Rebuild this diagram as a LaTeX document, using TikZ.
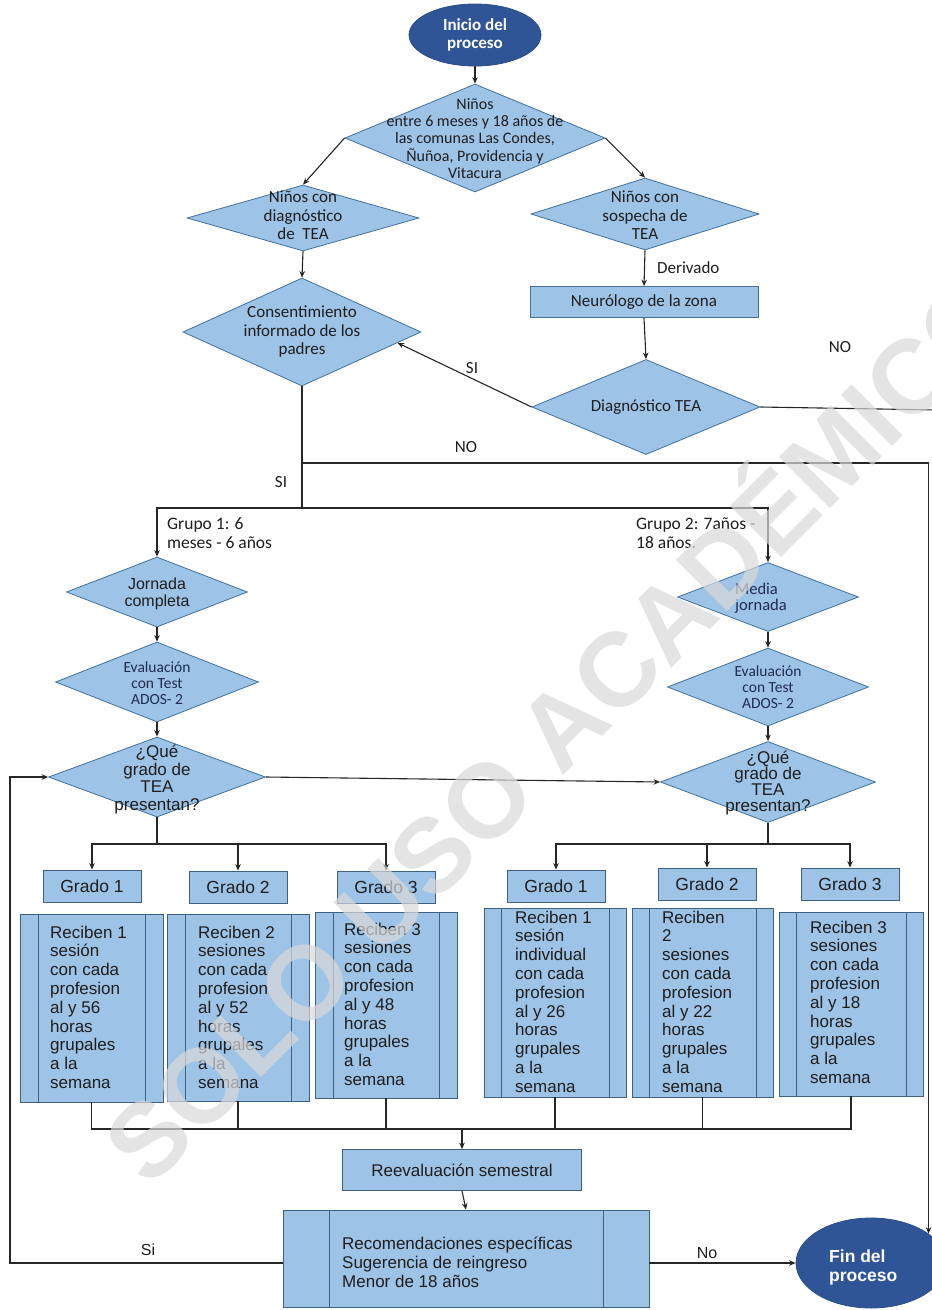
\documentclass[tikz,border=0pt]{standalone}
\usepackage{fontspec}
\setmainfont{Carlito}
\newfontfamily\arialf{Liberation Sans}
\usetikzlibrary{shapes.geometric,arrows.meta,calc}
\definecolor{fillc}{HTML}{9DC3E6}
\definecolor{bdr}{HTML}{41719C}
\definecolor{bdrl}{HTML}{40607F}
\definecolor{darkb}{HTML}{2F5597}
\definecolor{darkbd}{HTML}{2A4C88}
\definecolor{ink}{HTML}{1E1E1E}
\definecolor{navyink}{HTML}{1F2D50}
\definecolor{lineg}{HTML}{262626}
\definecolor{wmc}{HTML}{D9D9D9}
\newcommand\fz[2]{\fontsize{#1}{#2}\selectfont}
\tikzset{
  dia/.style n args={2}{diamond, draw=bdr, fill=fillc, line width=0.8pt, inner sep=0pt, minimum width=#1, minimum height=#2},
  rbox/.style n args={2}{rectangle, draw=bdr, fill=fillc, line width=0.8pt, inner sep=0pt, minimum width=#1, minimum height=#2},
  ellip/.style n args={2}{ellipse, draw=darkbd, fill=darkb, line width=0.8pt, inner sep=0pt, minimum width=#1, minimum height=#2},
  pbox/.style n args={3}{rectangle, draw=bdrl, fill=fillc, line width=0.8pt, inner sep=0pt, minimum width=#1, minimum height=#2,
     path picture={\draw[bdrl, line width=0.8pt] ([xshift=#3]path picture bounding box.north west) -- ([xshift=#3]path picture bounding box.south west) ([xshift=-#3]path picture bounding box.north east) -- ([xshift=-#3]path picture bounding box.south east);}},
  cal/.style={font=\fz{17}{18.5}, text=ink, align=center, inner sep=0pt},
  ari/.style={font=\arialf\fz{17}{19}, text=ink, align=center, inner sep=0pt},
  btxt/.style={font=\arialf\fz{17}{18.8}, text=ink, align=left, inner sep=0pt, anchor=north west},
  ln/.style={draw=lineg, line width=1.1pt},
  arr/.style={-{Stealth[length=6.5pt,width=5.5pt]}},
}
\begin{document}
\begin{tikzpicture}[x=1pt,y=-1pt]
\useasboundingbox (0,0) rectangle (932,1310);
\clip (0,0) rectangle (932,1310);
\fill[white] (0,0) rectangle (932,1310);

% ---------- upper part ----------
\node[ellip={132pt}{62pt}] (ini) at (475,35) {};
\node[font=\bfseries\fz{17}{18}, text=white, align=center, inner sep=0pt] (init) at (ini) {Inicio del\\proceso};

\node[dia={260pt}{108pt}] (d1) at (475,138) {};
\node[cal, font=\fz{16}{17.2}] (d1t) at (475,138.5) {Niños\\entre 6 meses y 18 años de\\las comunas Las Condes,\\Ñuñoa, Providencia y\\Vitacura};

\node[dia={232pt}{66pt}] (d2) at (303,218) {};
\node[cal] (d2t) at (303,215.5) {Niños con\\diagnóstico\\de~~TEA};

\node[dia={228pt}{72pt}] (d3) at (645,214) {};
\node[cal] (d3t) at (645,215.5) {Niños con\\sospecha de\\TEA};

\node[rbox={228pt}{31pt}, cal] (neu) at (644,302) {Neurólogo de la zona};
\node[cal, anchor=west] (derl) at (657,268) {Derivado};

\node[dia={228pt}{95pt}] (diag) at (646,407) {};
\node[cal] (diagt) at (646,407) {Diagnóstico TEA};

\node[dia={238pt}{108pt}] (cons) at (302,332) {};
\node[cal] (const) at (302,331.5) {Consentimiento\\informado de los\\padres};

\node[cal] (sil) at (472,368) {SI};
\node[cal] (nol) at (840,347) {NO};
\node[cal] (nol2) at (466,447) {NO};
\node[cal] (sil2) at (281,482) {SI};

\node[cal, align=left, anchor=north west, font=\fz{17.5}{19}] (g1l) at (167,516) {\strut Grupo 1: 6\\meses - 6 años};
\node[cal, align=left, anchor=north west, font=\fz{17.5}{19}] (g2l) at (636,516) {\strut Grupo 2: 7años -\\18 años.};

% ---------- left branch ----------
\node[dia={181pt}{70pt}] (jor) at (157,592) {};
\node[ari, font=\arialf\fz{16}{17}] (jort) at (157,593.5) {Jornada\\completa};
\node[dia={203pt}{80pt}] (ev1) at (157,682) {};
\node[cal, font=\fz{15.5}{16.3}, text=navyink] (ev1t) at (157,683) {Evaluación\\con Test\\ADOS- 2};
\node[dia={217pt}{80pt}] (q1) at (157,777) {};
\node[ari, font=\arialf\fz{17}{17.7}] (q1t) at (157,779.5) {¿Qué\\grado de\\TEA\\presentan?};

% ---------- right branch ----------
\node[dia={181pt}{69pt}] (med) at (768,597) {};
\node[cal, align=left, font=\fz{16.5}{16.5}, text=navyink] (medt) at (761,598) {Media\\jornada};
\node[dia={201pt}{78pt}] (ev2) at (768,687) {};
\node[cal, font=\fz{15.5}{16.3}, text=navyink] (ev2t) at (768,687) {Evaluación\\con Test\\ADOS- 2};
\node[dia={215pt}{81pt}] (q2) at (768,782) {};
\node[ari, font=\arialf\fz{17}{16}] (q2t) at (768,783) {¿Qué\\grado de\\TEA\\presentan?};

% ---------- grade boxes ----------
\tikzset{gbox/.style={rbox={98pt}{32pt}, draw=bdrl, ari, font=\arialf\fz{17.5}{19}}}
\node[gbox] (g1) at (92,886) {Grado 1};
\node[gbox] (g2) at (238,887) {Grado 2};
\node[gbox] (g3) at (386,887) {Grado 3};
\node[gbox] (g4) at (556,886) {Grado 1};
\node[gbox] (g5) at (707,884) {Grado 2};
\node[gbox] (g6) at (850,884) {Grado 3};

\node[pbox={143pt}{188pt}{18pt}] (b1) at (91.5,1008) {};
\node[pbox={142pt}{187pt}{18pt}] (b2) at (238,1007.5) {};
\node[pbox={142pt}{186pt}{18pt}] (b3) at (386,1005) {};
\node[pbox={142pt}{189pt}{17pt}] (b4) at (555,1002.5) {};
\node[pbox={141pt}{189pt}{17pt}] (b5) at (702.5,1002.5) {};
\node[pbox={144pt}{184pt}{17pt}] (b6) at (851,1004) {};

\node[btxt] (b1t) at (50,924.8) {\strut Reciben 1\\sesión\\con cada\\profesion\\al y 56\\horas\\grupales\\a la\\semana};
\node[btxt] (b2t) at (198,924.8) {\strut Reciben 2\\sesiones\\con cada\\profesion\\al y 52\\horas\\grupales\\a la\\semana};
\node[btxt] (b3t) at (344,921.8) {\strut Reciben 3\\sesiones\\con cada\\profesion\\al y 48\\horas\\grupales\\a la\\semana};
\node[btxt] (b4t) at (515,909.8) {\strut Reciben 1\\sesión\\individual\\con cada\\profesion\\al y 26\\horas\\grupales\\a la\\semana};
\node[btxt] (b5t) at (662,909.8) {\strut Reciben\\2\\sesiones\\con cada\\profesion\\al y 22\\horas\\grupales\\a la\\semana};
\node[btxt] (b6t) at (810,919.8) {\strut Reciben 3\\sesiones\\con cada\\profesion\\al y 18\\horas\\grupales\\a la\\semana};

% ---------- bottom ----------
\node[rbox={239pt}{41pt}, draw=bdrl, ari] (reev) at (462,1170) {Reevaluación semestral};
\node[pbox={366pt}{97pt}{46pt}] (rec) at (466,1258.5) {};
\node[btxt, font=\arialf\fz{17}{19}] (rect) at (342,1235.7) {\strut Recomendaciones específicas\\Sugerencia de reingreso\\Menor de 18 años};

\node[ellip={150pt}{90pt}] (fin) at (871,1263) {};
\node[font=\arialf\bfseries\fz{17.5}{19}, text=white, align=left, inner sep=0pt, anchor=north west] (fint) at (829,1248.7) {\strut Fin del\\proceso};

\node[ari, font=\arialf\fz{16}{18}] (sil3) at (148,1250) {Si};
\node[ari, font=\arialf\fz{16}{18}] (nol3) at (707,1253) {No};

% ---------- coordinates ----------
\coordinate (consin) at ($(cons.east)!0.2!(cons.south)$);
\coordinate (noend) at (940,410);
\coordinate (j0) at (302,463);
\coordinate (j1) at (302,508);
\coordinate (h1) at (157,844);
\coordinate (h2) at (768,844);
\coordinate (bus) at (851,1129);
\coordinate (loopx) at (10,777);

% ---------- connectors ----------
\draw[ln,arr] (ini) -- (d1);
\draw[ln,arr] (d1.west) -- (d2.north);
\draw[ln,arr] (d1.east) -- (d3.north);
\draw[ln,arr] (d2.south) -- (cons.north);
\draw[ln,arr] (d3.south) -- (neu.north);
\draw[ln,arr] (neu.south) -- (diag.north);
\draw[ln,arr] (diag.west) -- (consin);
\draw[ln] (diag.east) -- (noend);
\draw[ln] (cons.south) -- (j1);
\draw[ln,arr] (j0) -| (fin.27);
\draw[ln,arr] (j1) -| (jor.north);
\draw[ln,arr] (j1) -| (med.north);
\draw[ln,arr] (jor.south) -- (ev1.north);
\draw[ln,arr] (ev1.south) -- (q1.north);
\draw[ln,arr] (med.south) -- (ev2.north);
\draw[ln,arr] (ev2.south) -- (q2.north);
\draw[ln,arr] (q1.east) -- (q2.west);

\draw[ln] (q1.south) -- (h1);
\draw[ln,arr] (h1) -| (g1.north);
\draw[ln,arr] (h1) -| (g3.north);
\draw[ln,arr] (g2.north |- h1) -- (g2.north);
\draw[ln] (q2.south) -- (h2);
\draw[ln,arr] (h2) -| (g4.north);
\draw[ln,arr] (h2) -| (g6.north);
\draw[ln,arr] (g5.north |- h2) -- (g5.north);

\draw[ln] (b1.south) |- (bus) -- (b6.south);
\draw[ln] (b2.south) -- (b2.south |- bus);
\draw[ln] (b3.south) -- (b3.south |- bus);
\draw[ln] (b4.south) -- (b4.south |- bus);
\draw[ln] (b5.south) -- (b5.south |- bus);
\draw[ln,arr] (reev.north |- bus) -- (reev.north);
\draw[ln,arr] (reev.south) -- (rec.north);
\draw[ln,arr] (rec.west |- fin.west) -| (loopx) -- (q1.west);
\draw[ln,arr] (rec.east |- fin.west) -- (fin.west);

% ---------- watermark ----------
\node[font=\arialf\bfseries\fz{105}{105}, text=wmc, text opacity=0.7, rotate=45, inner sep=0pt] (wm) at (552,722) {SOLO USO ACADÉMICO};
\end{tikzpicture}
\end{document}
